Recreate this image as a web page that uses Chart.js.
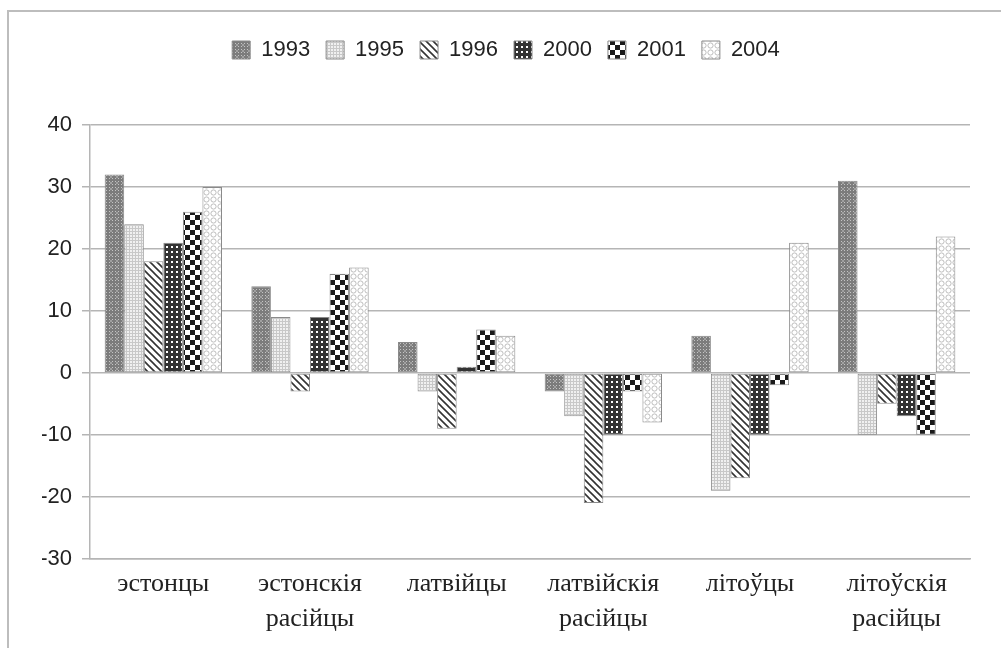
<!DOCTYPE html>
<html>
<head>
<meta charset="utf-8">
<script src="https://cdn.jsdelivr.net/npm/chart.js@4"></script>
<style>
  body { margin: 0; background: #fff; }
  #wrap { position: relative; width: 1001px; height: 648px; overflow: hidden; }
  #frame { position: absolute; left: 7px; top: 10px; width: 1100px; height: 800px; border: 2px solid #bdbdbd; }
  canvas { position: absolute; left: 0; top: 0; }
</style>
</head>
<body>
<div id="wrap">
  <div id="frame"></div>
  <canvas id="chart" width="1001" height="648"></canvas>
</div>
<script>
  const categories = [
    "эстонцы",
    ["эстонскія", "расійцы"],
    "латвійцы",
    ["латвійскія", "расійцы"],
    "літоўцы",
    ["літоўскія", "расійцы"]
  ];

  const years = ["1993", "1995", "1996", "2000", "2001", "2004"];

  const values1993 = [32, 14, 5, -3, 6, 31];
  const values1995 = [24, 9, -3, -7, -19, -10];
  const values1996 = [18, -3, -9, -21, -17, -5];
  const values2000 = [21, 9, 1, -10, -10, -7];
  const values2001 = [26, 16, 7, -3, -2, -10];
  const values2004 = [30, 17, 6, -8, 21, 22];

  const yTicks = [40, 30, 20, 10, 0, -10, -20, -30];

  // small tiles for the hatch fills
  function makePattern(size, draw) {
    const c = document.createElement('canvas');
    c.width = size;
    c.height = size;
    const g = c.getContext('2d');
    draw(g, size);
    return g.createPattern(c, 'repeat');
  }

  const fill1993 = makePattern(6, (g, s) => {
    g.fillStyle = '#7c7c7c';
    g.fillRect(0, 0, s, s);
    g.fillStyle = '#c4c4c4';
    g.fillRect(1, 1, 1, 1);
    g.fillRect(4, 1, 1, 1);
    g.fillRect(1, 4, 1, 1);
    g.fillRect(4, 4, 1, 1);
    g.fillStyle = '#a0a0a0';
    g.fillRect(2, 2, 2, 2);
  });

  const fill1995 = makePattern(3, (g, s) => {
    g.fillStyle = '#f0f0f0';
    g.fillRect(0, 0, s, s);
    g.fillStyle = '#c8c8c8';
    g.fillRect(0, 0, s, 1);
    g.fillRect(0, 0, 1, s);
  });

  const fill1996 = makePattern(7, (g, s) => {
    g.fillStyle = '#ffffff';
    g.fillRect(0, 0, s, s);
    g.strokeStyle = '#333333';
    g.lineWidth = 1.6;
    g.beginPath();
    g.moveTo(-1, -1); g.lineTo(s + 1, s + 1);
    g.moveTo(-1, s - 1); g.lineTo(1, s + 1);
    g.moveTo(s - 1, -1); g.lineTo(s + 1, 1);
    g.stroke();
  });

  const fill2000 = makePattern(5, (g, s) => {
    g.fillStyle = '#333333';
    g.fillRect(0, 0, s, s);
    g.fillStyle = '#ffffff';
    g.fillRect(1, 1, 2, 2);
  });

  const fill2001 = makePattern(10, (g, s) => {
    g.fillStyle = '#ffffff';
    g.fillRect(0, 0, s, s);
    g.fillStyle = '#1a1a1a';
    g.fillRect(0, 0, 5, 5);
    g.fillRect(5, 5, 5, 5);
  });

  const fill2004 = makePattern(7, (g, s) => {
    g.fillStyle = '#ffffff';
    g.fillRect(0, 0, s, s);
    g.strokeStyle = '#bdbdbd';
    g.lineWidth = 1;
    g.beginPath();
    g.arc(3.5, 3.5, 2.6, 0, Math.PI * 2);
    g.stroke();
  });

  function series(label, data, fill) {
    return {
      label: label,
      data: data,
      backgroundColor: fill,
      borderColor: '#8a8a8a',
      borderWidth: 1,
      borderSkipped: false,
      categoryPercentage: 0.8,
      barPercentage: 1.0
    };
  }

  const legendSpace = {
    id: 'legendSpace',
    beforeInit(chart) {
      const fit = chart.legend.fit;
      chart.legend.fit = function () {
        fit.bind(chart.legend)();
        this.height += 54;
      };
    }
  };

  new Chart(document.getElementById('chart'), {
    type: 'bar',
    data: {
      labels: categories,
      datasets: [
        series(years[0], values1993, fill1993),
        series(years[1], values1995, fill1995),
        series(years[2], values1996, fill1996),
        series(years[3], values2000, fill2000),
        series(years[4], values2001, fill2001),
        series(years[5], values2004, fill2004)
      ]
    },
    options: {
      responsive: false,
      animation: false,
      layout: {
        padding: { top: 23, right: 31, left: 42, bottom: 11 }
      },
      plugins: {
        legend: {
          position: 'top',
          labels: {
            boxWidth: 18,
            boxHeight: 18,
            padding: 16,
            color: '#222',
            font: { family: 'Liberation Sans', size: 22 }
          }
        },
        tooltip: { enabled: false }
      },
      scales: {
        x: {
          grid: { display: false },
          border: { display: true, color: '#b5b5b5', width: 1.5 },
          ticks: {
            color: '#222',
            padding: 0,
            maxRotation: 0,
            font: { family: 'Liberation Serif', size: 26, lineHeight: 1.35 }
          }
        },
        y: {
          min: -30,
          max: 40,
          afterFit: s => { s.width = 48; },
          afterBuildTicks: s => { s.ticks = yTicks.map(v => ({ value: v })); },
          grid: {
            color: '#b5b5b5',
            lineWidth: 1.5,
            tickLength: 8
          },
          border: { display: true, color: '#b5b5b5', width: 1.5 },
          ticks: {
            color: '#222',
            padding: 10,
            font: { family: 'Liberation Sans', size: 22 }
          }
        }
      }
    },
    plugins: [legendSpace]
  });
</script>
</body>
</html>
